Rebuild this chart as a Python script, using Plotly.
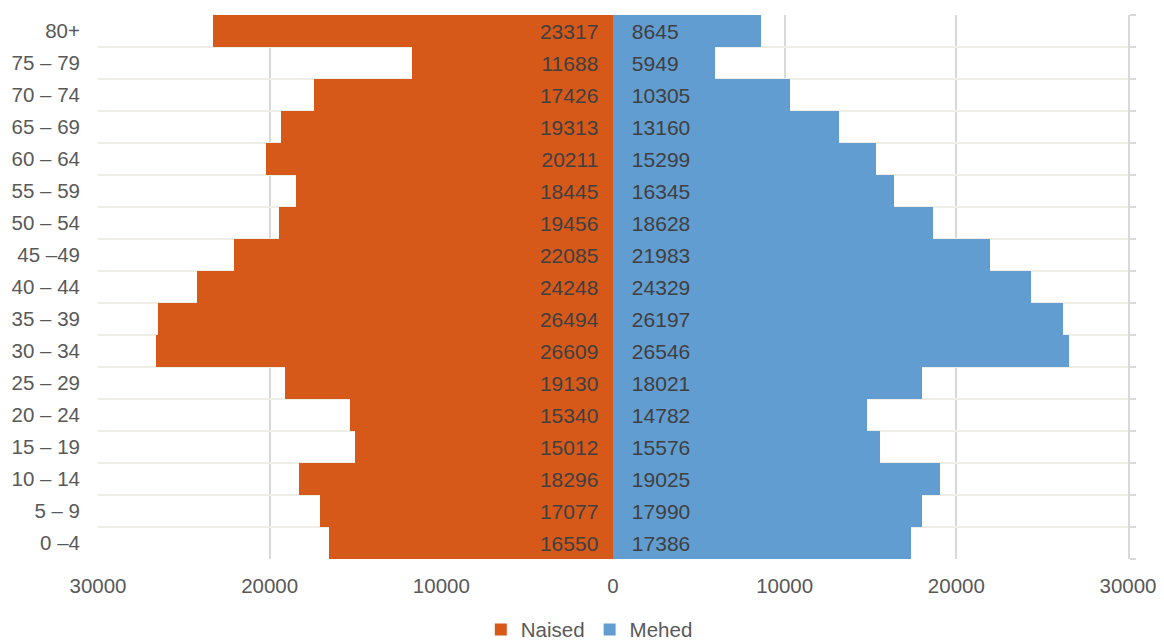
import plotly.graph_objects as go

age_groups = ["0 \u20134", "5 \u2013 9", "10 \u2013 14", "15 \u2013 19", "20 \u2013 24", "25 \u2013 29",
              "30 \u2013 34", "35 \u2013 39", "40 \u2013 44", "45 \u201349", "50 \u2013 54", "55 \u2013 59",
              "60 \u2013 64", "65 \u2013 69", "70 \u2013 74", "75 \u2013 79", "80+"]
naised = [16550, 17077, 18296, 15012, 15340, 19130, 26609, 26494, 24248, 22085,
          19456, 18445, 20211, 19313, 17426, 11688, 23317]
mehed = [17386, 17990, 19025, 15576, 14782, 18021, 26546, 26197, 24329, 21983,
         18628, 16345, 15299, 13160, 10305, 5949, 8645]
x_tickvals = [-30000, -20000, -10000, 0, 10000, 20000, 30000]
x_ticktext = ["30000", "20000", "10000", "0", "10000", "20000", "30000"]
grid_vals = [-20000, 10000, 20000]

FONT = "Liberation Sans, Arial, sans-serif"
ORANGE = "#d6591a"
BLUE = "#629dd1"

fig = go.Figure()
fig.add_trace(go.Bar(
    y=age_groups, x=[-v for v in naised], orientation="h", name="Naised",
    marker=dict(color=ORANGE, line=dict(width=0)),
    text=[f"{v}\u00a0\u00a0" for v in naised], textposition="inside",
    insidetextanchor="start", textangle=0,
    textfont=dict(color="#404040", size=21, family=FONT),
    hoverinfo="skip",
))
fig.add_trace(go.Bar(
    y=age_groups, x=mehed, orientation="h", name="Mehed",
    marker=dict(color=BLUE, line=dict(width=0)),
    text=[f"\u00a0\u00a0\u2009{v}" for v in mehed], textposition="inside",
    insidetextanchor="start", textangle=0,
    textfont=dict(color="#404040", size=21, family=FONT),
    hoverinfo="skip",
))
fig.add_trace(go.Scatter(
    y=age_groups, x=[None] * len(age_groups), yaxis="y2", mode="markers",
    showlegend=False, hoverinfo="skip",
))

fig.update_layout(
    width=1156, height=633,
    margin=dict(l=90, r=36, t=7, b=82),
    paper_bgcolor="white", plot_bgcolor="white",
    barmode="overlay", bargap=0,
    font=dict(family=FONT, color="#595959", size=20.5),
    xaxis=dict(
        range=[-30000, 30000], tickmode="array", tickvals=x_tickvals, ticktext=x_ticktext,
        showgrid=False, zeroline=False, showline=False, ticks="", automargin=False,
        tickfont=dict(size=20.5, color="#595959"), ticklabelstandoff=12,
        minor=dict(tickmode="array", tickvals=grid_vals, showgrid=True,
                   gridcolor="#d9d9d9", gridwidth=1.5, ticks=""),
    ),
    yaxis=dict(
        type="category", categoryorder="array", categoryarray=age_groups,
        range=[-0.5, len(age_groups) - 0.5], automargin=False,
        tickson="boundaries", showgrid=True, gridcolor="#efeee6", gridwidth=2,
        zeroline=False, showline=False, ticks="",
        tickfont=dict(size=20.5, color="#595959"), ticklabelstandoff=17,
    ),
    yaxis2=dict(
        type="category", categoryorder="array", categoryarray=age_groups,
        range=[-0.5, len(age_groups) - 0.5], overlaying="y", side="right",
        tickson="boundaries", showgrid=False, showline=True, linecolor="#d9d9d9",
        linewidth=2, ticks="outside", ticklen=6, tickcolor="#d9d9d9", tickwidth=2,
        showticklabels=False, zeroline=False, automargin=False,
    ),
    legend=dict(orientation="h", x=0.477, xanchor="center", xref="paper",
                y=0.018, yanchor="middle", yref="container",
                font=dict(size=20.5, color="#595959"), itemwidth=30,
                traceorder="normal"),
)

fig.write_html("out.html")
